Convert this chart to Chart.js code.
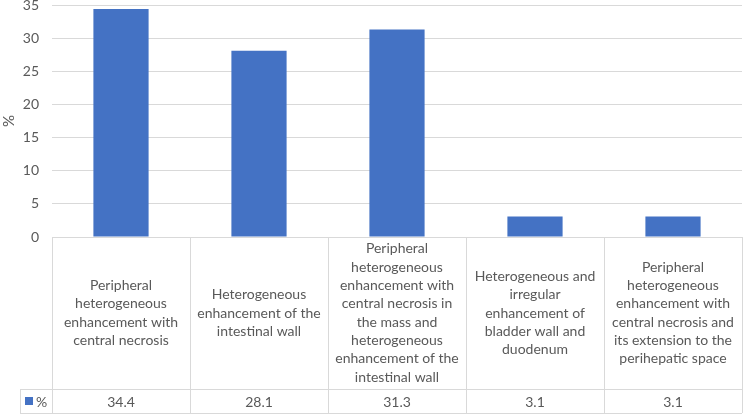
<!DOCTYPE html>
<html>
<head>
<meta charset="utf-8">
<script src="https://cdn.jsdelivr.net/npm/chart.js@4/dist/chart.umd.min.js"></script>
<style>
  body { margin: 0; background: #fff; }
  #wrap { width: 744px; height: 415px; position: relative; }
</style>
</head>
<body>
<div id="wrap"><canvas id="chart"></canvas></div>
<script>
// categories, pre-wrapped the way the table cells show them
const categories = [
  ["Peripheral", "heterogeneous", "enhancement with", "central necrosis"],
  ["Heterogeneous", "enhancement of the", "intestinal wall"],
  ["Peripheral", "heterogeneous", "enhancement with", "central necrosis in", "the mass and", "heterogeneous", "enhancement of the", "intestinal wall"],
  ["Heterogeneous and", "irregular", "enhancement of", "bladder wall and", "duodenum"],
  ["Peripheral", "heterogeneous", "enhancement with", "central necrosis and", "its extension to the", "perihepatic space"]
];
const values = [34.4, 28.1, 31.3, 3.1, 3.1];
const valueLabels = ["34.4", "28.1", "31.3", "3.1", "3.1"];
const seriesName = "%";
const yTicks = [0, 5, 10, 15, 20, 25, 30, 35];

const FONT = "Lato, 'Open Sans', sans-serif";
const TEXT = "#595959";
const LINE = "#d9d9d9";
const BLUE = "#4472c4";

// data table drawn under the plot, using the x scale to place columns
const dataTable = {
  id: "dataTable",
  afterDraw(chart) {
    const ctx = chart.ctx;
    const x = chart.scales.x;
    const area = chart.chartArea;
    const top = area.bottom;
    const rowSplit = 389;
    const bottom = 413;
    const keyLeft = 20;
    const n = categories.length;
    const half = (x.getPixelForValue(1) - x.getPixelForValue(0)) / 2;

    ctx.save();
    ctx.strokeStyle = LINE;
    ctx.lineWidth = 1;
    ctx.beginPath();
    // horizontal lines
    ctx.moveTo(area.left, top + 0.5); ctx.lineTo(area.right, top + 0.5);
    ctx.moveTo(keyLeft, rowSplit + 0.5); ctx.lineTo(area.right, rowSplit + 0.5);
    ctx.moveTo(keyLeft, bottom + 0.5); ctx.lineTo(area.right, bottom + 0.5);
    // vertical lines
    for (let i = 0; i <= n; i++) {
      const px = Math.round(x.getPixelForValue(i) - half) + 0.5;
      ctx.moveTo(px, top); ctx.lineTo(px, bottom);
    }
    ctx.moveTo(keyLeft + 0.5, rowSplit); ctx.lineTo(keyLeft + 0.5, bottom);
    ctx.stroke();

    ctx.fillStyle = TEXT;
    ctx.font = "14px " + FONT;
    ctx.textAlign = "center";
    ctx.textBaseline = "middle";
    const lh = 18.3;
    const mid = (top + rowSplit) / 2;
    categories.forEach((lines, i) => {
      const cx = x.getPixelForValue(i);
      const start = mid - (lines.length - 1) * lh / 2;
      lines.forEach((t, j) => ctx.fillText(t, cx, start + j * lh));
      ctx.fillText(valueLabels[i], cx, (rowSplit + bottom) / 2 + 1);
    });

    // legend key
    ctx.fillStyle = BLUE;
    ctx.fillRect(25, 397, 8, 8);
    ctx.fillStyle = TEXT;
    ctx.textAlign = "left";
    ctx.fillText(seriesName, 36, (rowSplit + bottom) / 2 + 1);
    ctx.restore();
  }
};

new Chart(document.getElementById("chart"), {
  type: "bar",
  data: {
    labels: categories.map(c => c.join(" ")),
    datasets: [{
      label: seriesName,
      data: values,
      backgroundColor: BLUE,
      categoryPercentage: 1,
      barPercentage: 0.4
    }]
  },
  options: {
    responsive: true,
    maintainAspectRatio: false,
    animation: false,
    layout: { padding: { top: 5, right: 2, bottom: 178, left: 0 } },
    plugins: {
      legend: { display: false },
      tooltip: { enabled: false }
    },
    scales: {
      x: {
        display: false,
        offset: true
      },
      y: {
        min: 0,
        max: 35,
        afterBuildTicks: (s) => { s.ticks = yTicks.map(v => ({ value: v })); },
        afterFit: (s) => { s.width = 52; s.paddingTop = 0; s.paddingBottom = 0; },
        border: { display: false },
        grid: { color: LINE, drawTicks: false },
        ticks: { color: TEXT, font: { family: FONT, size: 14 }, padding: 13 },
        title: {
          display: true,
          text: "%",
          color: TEXT,
          font: { family: FONT, size: 15 },
          padding: { top: 0, bottom: 0 }
        }
      }
    }
  },
  plugins: [dataTable]
});
</script>
</body>
</html>
